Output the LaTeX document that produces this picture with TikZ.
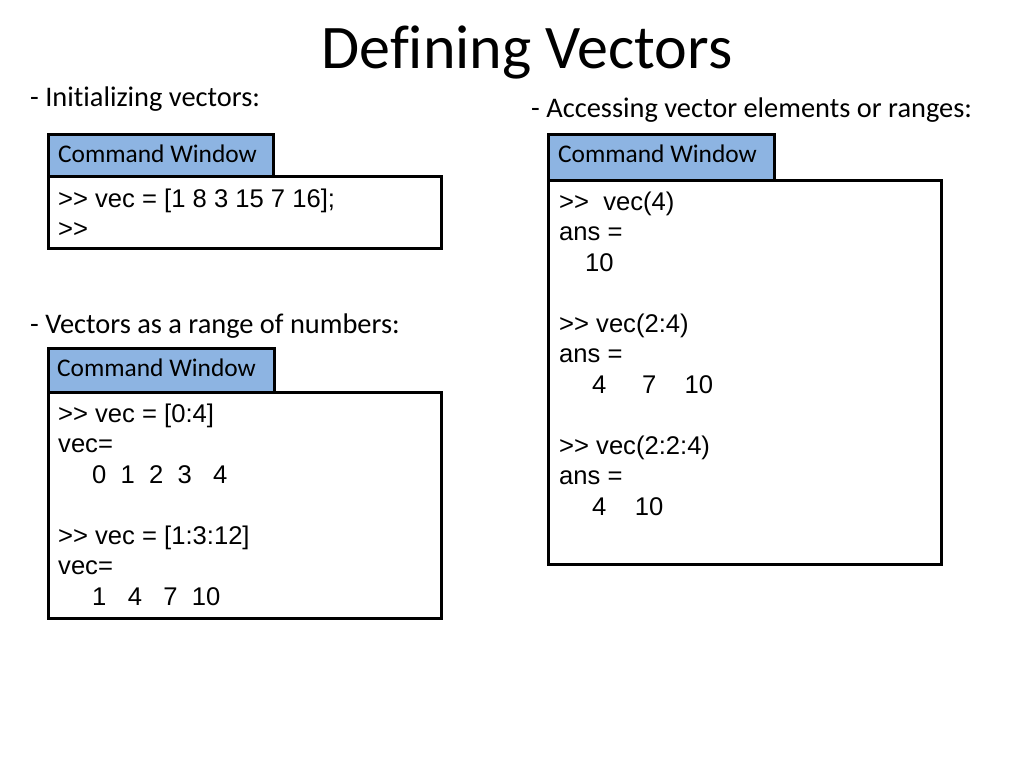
\documentclass[tikz,border=0pt]{standalone}
\usepackage{fontspec}
\setmainfont{Carlito}[Ligatures=NoCommon]
\newfontfamily\codefont{Liberation Sans}
\usetikzlibrary{positioning}
\definecolor{tabblue}{RGB}{141,180,226}
\newcommand{\codelead}[1]{\hspace*{#1pt}}
\newcommand{\topstrut}{\rule{0pt}{24pt}}
\tikzset{
  winbody/.style={ draw, line width=3pt, fill=white, inner sep=0pt, anchor=north west }
}
\tikzset{
  wintab/.style={ draw, line width=3pt, fill=tabblue, inner sep=0pt, anchor=north west }
}
\tikzset{
  tabtext/.style={ font=\fontsize{25.4}{30}\selectfont, inner sep=0pt, anchor=base west }
}
\tikzset{
  codetext/.style={ font=\codefont\fontsize{25.6}{30.5}\selectfont, align=left, inner sep=0pt, anchor=north west }
}
\tikzset{
  heading/.style={ font=\fontsize{28.4}{34}\selectfont, inner sep=0pt, anchor=base west }
}

\begin{document}
\begin{tikzpicture}[x=1pt, y=-1pt]
  \useasboundingbox (0,0) rectangle (1024,768);
  \node[font=\fontsize{62}{70}\selectfont, inner sep=0pt, anchor=base] (title) at (527,68) {Defining Vectors};
  % initializing vectors
  \node[heading] (initlbl) at (30,106) {- Initializing vectors:};
  \node[winbody, minimum width=393, minimum height=72] (body1) at (47,175) {};
  \node[wintab, minimum width=225, minimum height=42] (tab1) at (47,133) {};
  \node[tabtext] (tabtxt1) at (58,162) {Command Window};
  \node[codetext] (code1) at (58,183) {\topstrut>> vec = [1 8 3 15 7 16];\\>>};
  % ranges of numbers
  \node[heading] (rangelbl) at (30,333) {- Vectors as a range of numbers:};
  \node[winbody, minimum width=393, minimum height=226] (body2) at (47,391) {};
  \node[wintab, minimum width=226, minimum height=44] (tab2) at (47,347) {};
  \node[tabtext] (tabtxt2) at (57,376) {Command Window};
  \node[codetext] (code2) at (58,398) {\topstrut>> vec = [0:4]\\vec=\\
    \codelead{34}0~~1~~2~~3~~~4\\\mbox{}\\
    >> vec = [1:3:12]\\vec=\\
    \codelead{34}1~~~4~~~7~~10};
  % accessing elements
  \node[heading] (accesslbl) at (531,117) {- Accessing vector elements or ranges:};
  \node[winbody, minimum width=393, minimum height=384] (body3) at (547,179) {};
  \node[wintab, minimum width=226, minimum height=46] (tab3) at (547,133) {};
  \node[tabtext] (tabtxt3) at (558,162) {Command Window};
  \node[codetext] (code3) at (559,186) {\topstrut>>~~vec(4)\\ans =\\
    \codelead{26}10\\\mbox{}\\
    >> vec(2:4)\\ans =\\
    \codelead{33}4~~~~~7~~~~10\\\mbox{}\\
    >> vec(2:2:4)\\ans =\\
    \codelead{33}4~~~~10};
\end{tikzpicture}
\end{document}
